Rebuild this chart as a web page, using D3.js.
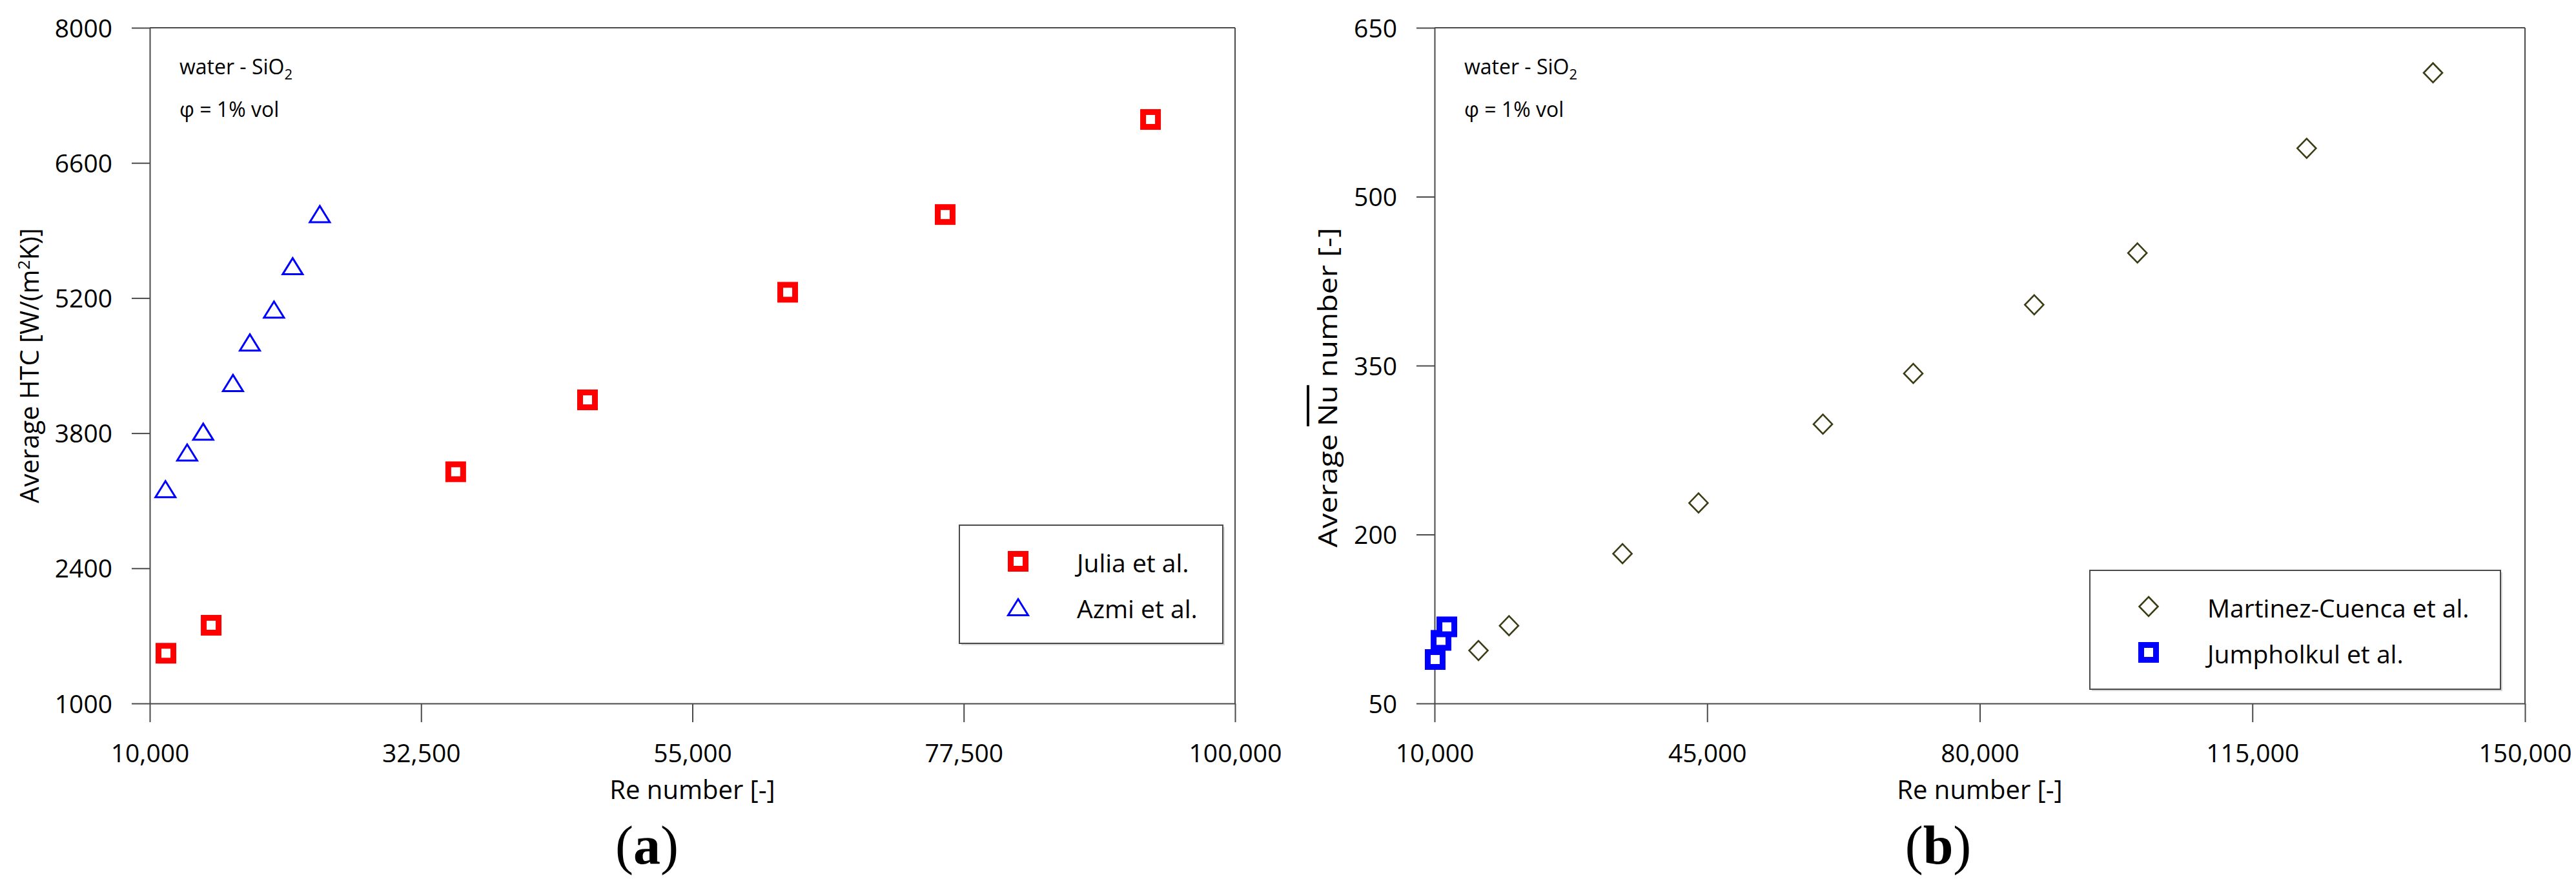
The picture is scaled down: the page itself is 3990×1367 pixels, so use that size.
<!DOCTYPE html>
<html><head><meta charset="utf-8">
<script src="https://cdn.jsdelivr.net/npm/d3@7"></script>
<style>html,body{margin:0;padding:0;background:#fff;} text{font-family:"Open Sans",sans-serif;fill:#000;}</style>
</head><body><svg id="c" width="3990" height="1367"></svg>
<script>
// ---------- data ----------
const reTicksA = [10000, 32500, 55000, 77500, 100000];
const htcTicks = [1000, 2400, 3800, 5200, 6600, 8000];
const juliaRe  = [11340, 15090, 35370, 46300, 62900, 75960, 92990];
const juliaHTC = [1520, 1810, 3400, 4145, 5260, 6065, 7050];
const azmiRe   = [11300, 13100, 14430, 16900, 18300, 20300, 21850, 24100];
const azmiHTC  = [3220, 3600, 3815, 4320, 4740, 5080, 5530, 6070];

const reTicksB = [10000, 45000, 80000, 115000, 150000];
const nuTicks  = [50, 200, 350, 500, 650];
const martinezRe = [15640, 19560, 34130, 43890, 59860, 71460, 86990, 100240, 121970, 138190];
const martinezNu = [97, 119, 183, 228, 298, 343, 404, 450, 543, 610];
const jumpRe = [10080, 10830, 11580];
const jumpNu = [89, 106, 118];

const seriesA = [
  {name: "Julia et al.", xs: juliaRe, ys: juliaHTC, shape: "square", color: "#ff0000"},
  {name: "Azmi et al.", xs: azmiRe, ys: azmiHTC, shape: "triangle", color: "#0000ff"}
];
const seriesB = [
  {name: "Martinez-Cuenca et al.", xs: martinezRe, ys: martinezNu, shape: "diamond", color: "#3c3c14"},
  {name: "Jumpholkul et al.", xs: jumpRe, ys: jumpNu, shape: "square", color: "#0000ff"}
];

// ---------- drawing ----------
const svg = d3.select("#c");
svg.append("rect").attr("width", 3990).attr("height", 1367).attr("fill", "#fff");
const AX = "#4a4a4a";

function marker(g, shape, color, cx, cy) {
  if (shape === "square") {
    g.append("rect").attr("x", cx - 11.5).attr("y", cy - 11.5).attr("width", 23).attr("height", 23)
      .attr("fill", "#fff").attr("stroke", color).attr("stroke-width", 9);
  } else if (shape === "triangle") {
    g.append("path").attr("transform", `translate(${cx},${cy})`)
      .attr("d", "M0,-12.5L15.5,12.5L-15.5,12.5Z")
      .attr("fill", "none").attr("stroke", color).attr("stroke-width", 3);
  } else {
    g.append("path").attr("transform", `translate(${cx},${cy})`)
      .attr("d", "M0,-15L14.5,0L0,15L-14.5,0Z")
      .attr("fill", "none").attr("stroke", color).attr("stroke-width", 2.6);
  }
}

function panel(o) {
  const g = svg.append("g");
  const x = d3.scaleLinear().domain([o.xTicks[0], o.xTicks[o.xTicks.length - 1]]).range([o.left, o.right]);
  const y = d3.scaleLinear().domain([o.yTicks[0], o.yTicks[o.yTicks.length - 1]]).range([o.bottom, o.top]);

  // frame (top & right)
  g.append("line").attr("x1", o.left).attr("x2", o.right).attr("y1", o.top).attr("y2", o.top)
    .attr("stroke", AX).attr("stroke-width", 2);
  g.append("line").attr("x1", o.right).attr("x2", o.right).attr("y1", o.top).attr("y2", o.bottom)
    .attr("stroke", AX).attr("stroke-width", 2);

  const xa = g.append("g").attr("transform", `translate(0,${o.bottom})`)
    .call(d3.axisBottom(x).tickValues(o.xTicks).tickFormat(d3.format(",")).tickSize(29).tickSizeOuter(0));
  const ya = g.append("g").attr("transform", `translate(${o.left},0)`)
    .call(d3.axisLeft(y).tickValues(o.yTicks).tickFormat(d => String(d)).tickSize(28).tickPadding(30).tickSizeOuter(0));
  [xa, ya].forEach(a => {
    a.select(".domain").attr("stroke", AX).attr("stroke-width", 2);
    a.selectAll(".tick line").attr("stroke", AX).attr("stroke-width", 2);
    a.selectAll("text").attr("font-family", '"Open Sans", sans-serif').attr("font-size", 39).attr("fill", "#000");
  });
  xa.selectAll("text").attr("y", 91).attr("dy", 0);
  ya.selectAll("text").attr("dy", "0.36em");

  // annotation
  const t1 = g.append("text").attr("x", o.left + 46).attr("y", o.top + 72).attr("font-size", 32);
  t1.append("tspan").text("water - SiO");
  t1.append("tspan").attr("font-size", 22).attr("dy", 8).text("2");
  g.append("text").attr("x", o.left + 46).attr("y", o.top + 138).attr("font-size", 32).text("φ = 1% vol");

  // x title
  g.append("text").attr("x", (o.left + o.right) / 2).attr("y", 1237).attr("text-anchor", "middle")
    .attr("font-size", 40).text("Re number [-]");

  // y title
  const yt = g.append("text").attr("transform", `translate(${o.ytX},${o.ytY}) rotate(-90)`)
    .attr("text-anchor", "middle").attr("font-size", 40);
  o.yTitle(yt);

  // points
  o.series.forEach(s => {
    const pg = g.append("g");
    s.xs.forEach((v, i) => marker(pg, s.shape, s.color, x(v), y(s.ys[i])));
  });

  // legend
  const L = o.legend;
  g.append("rect").attr("x", L.x + 3).attr("y", L.y + 3).attr("width", L.w).attr("height", L.h)
    .attr("fill", "#d9d9d9");
  g.append("rect").attr("x", L.x).attr("y", L.y).attr("width", L.w).attr("height", L.h)
    .attr("fill", "#fff").attr("stroke", AX).attr("stroke-width", 2);
  o.series.forEach((s, i) => {
    const cy = L.y + L.row0 + i * 71;
    marker(g, s.shape, s.color, L.x + 91, cy);
    g.append("text").attr("x", L.x + 182).attr("y", cy + 17).attr("font-size", 39).text(s.name);
  });

  // panel label
  const pl = g.append("text").attr("x", o.labelX).attr("y", 1337).attr("text-anchor", "middle")
    .attr("font-size", 84).style("font-family", '"Liberation Serif", serif');
  pl.append("tspan").text("(");
  pl.append("tspan").attr("font-weight", "bold").text(o.label);
  pl.append("tspan").text(")");
}

panel({
  left: 232, right: 1913, top: 43, bottom: 1089,
  xTicks: reTicksA, yTicks: htcTicks, series: seriesA,
  ytX: 60, ytY: 566,
  yTitle: t => {
    t.append("tspan").text("Average HTC [W/(m");
    t.append("tspan").attr("font-size", 26).attr("dy", -14).text("2");
    t.append("tspan").attr("dy", 14).text("K)]");
  },
  legend: {x: 1486, y: 813, w: 408, h: 183, row0: 56},
  label: "a", labelX: 1002
});

panel({
  left: 2222, right: 3911, top: 43, bottom: 1089,
  xTicks: reTicksB, yTicks: nuTicks, series: seriesB,
  ytX: 2071, ytY: 600,
  yTitle: t => {
    t.attr("textLength", 495).attr("lengthAdjust", "spacingAndGlyphs");
    t.append("tspan").text("Average ");
    t.append("tspan").style("text-decoration", "overline").text("Nu");
    t.append("tspan").text(" number [-]");
  },
  legend: {x: 3237, y: 883, w: 636, h: 184, row0: 56},
  label: "b", labelX: 3002
});
</script></body></html>
